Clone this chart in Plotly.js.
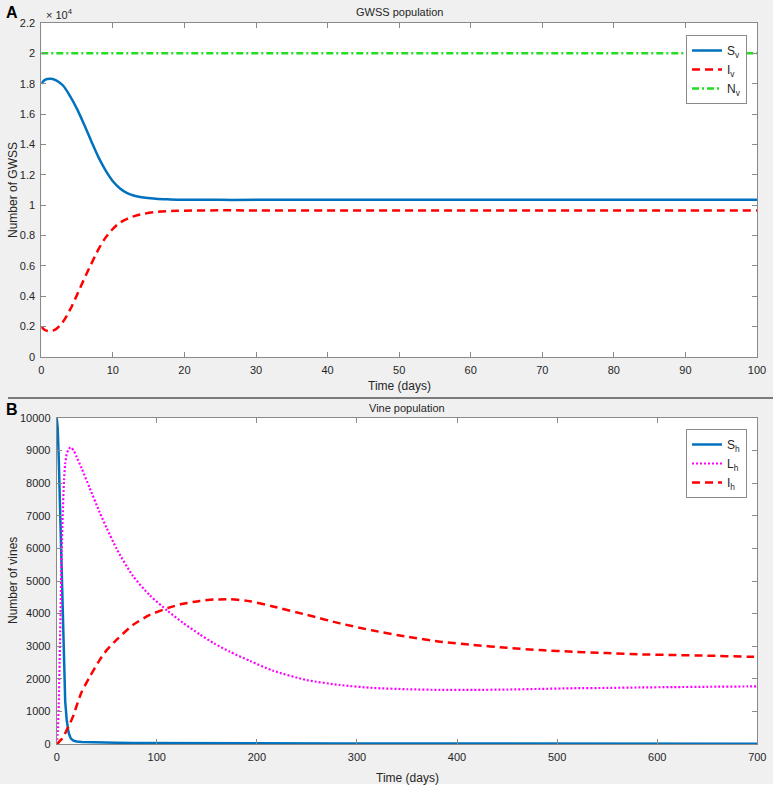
<!DOCTYPE html>
<html>
<head>
<meta charset="utf-8">
<script src="https://cdn.plot.ly/plotly-3.0.1.min.js"></script>
<style>html,body{margin:0;padding:0;background:#fff;}#chart{width:773px;height:788px;}</style>
</head>
<body>
<div id="chart"></div>
<script>
// ---- Panel A: GWSS population ----
const tV = [0,0.5,1.2,2,3,4,5,6,7,8,9,10,11,12,13,14,16,18,20,25,30,40,50,60,70,80,90,100];
const Sv = [18000,18250,18330,18240,17900,17200,16330,15300,14200,13150,12280,11580,11100,10790,10620,10520,10420,10380,10360,10350,10350,10350,10350,10350,10350,10350,10350,10350];
const Iv = [2000,1780,1700,1820,2300,3100,4100,5150,6150,7100,7880,8440,8850,9100,9280,9400,9550,9610,9640,9660,9655,9650,9650,9650,9650,9650,9650,9650];
const Nv = [20000,20000,20000,20000,20000,20000,20000,20000,20000,20000,20000,20000,20000,20000,20000,20000,20000,20000,20000,20000,20000,20000,20000,20000,20000,20000,20000,20000];
const yTicksA = [0,2000,4000,6000,8000,10000,12000,14000,16000,18000,20000,22000];
const yTextA = ['0','0.2','0.4','0.6','0.8','1','1.2','1.4','1.6','1.8','2','2.2'];
const xTicksA = [0,10,20,30,40,50,60,70,80,90,100];

// ---- Panel B: Vine population ----
const tH = [0,1,2,3.3,5,6,7.3,8.5,10,11.7,13.3,14.3,17,20,25,33,43,50,60,76,93,111,126,143,157,173,193,216,250,283,316,350,383,416,450,483,516,550,583,616,650,690,700];
const Sh = [10000,9700,8800,7180,5000,3600,2060,1300,740,380,220,160,100,75,62,52,45,42,38,34,31,28,26,24,23,22,21,20,18,17,16,15,14,13,12,12,11,11,10,10,10,9,9];
const Lh = [0,300,1200,3100,5900,7000,8100,8600,8900,9030,9090,9100,9000,8800,8450,7850,7100,6620,5980,5160,4560,4080,3720,3360,3090,2830,2550,2250,1960,1810,1720,1680,1660,1660,1670,1690,1710,1720,1735,1745,1755,1765,1770];
const Ih = [0,20,50,100,150,200,260,330,430,540,630,700,900,1180,1600,2060,2580,2880,3200,3650,3960,4170,4300,4390,4430,4440,4380,4220,3960,3700,3480,3290,3140,3040,2950,2880,2830,2790,2750,2730,2710,2680,2675];
const yTicksB = [0,1000,2000,3000,4000,5000,6000,7000,8000,9000,10000];
const yTextB = ['0','1000','2000','3000','4000','5000','6000','7000','8000','9000','10000'];
const xTicksB = [0,100,200,300,400,500,600,700];

const W = 773, H = 788;
const px = x => x / W;
const py = y => 1 - y / H;
const FONT = '"Liberation Sans Narrow", "Liberation Sans", Arial, sans-serif';
const TXT = '#262626';
const AX = '#8a8a8a';

const traces = [
  {x: tV, y: Sv, name: 'S<sub>v</sub>', mode: 'lines', line: {color: '#0072BD', width: 2.5, shape: 'spline', smoothing: 1}, xaxis: 'x', yaxis: 'y', legend: 'legend'},
  {x: tV, y: Iv, name: 'I<sub>v</sub>', mode: 'lines', line: {color: '#FF0000', width: 2.5, dash: '8px,5px', shape: 'spline', smoothing: 1}, xaxis: 'x', yaxis: 'y', legend: 'legend'},
  {x: tV, y: Nv, name: 'N<sub>v</sub>', mode: 'lines', line: {color: '#22DD22', width: 2.5, dash: '7px,3px,2px,3px'}, xaxis: 'x', yaxis: 'y', legend: 'legend'},
  {x: tH, y: Sh, name: 'S<sub>h</sub>', mode: 'lines', line: {color: '#0072BD', width: 2.5}, xaxis: 'x2', yaxis: 'y2', legend: 'legend2'},
  {x: tH, y: Lh, name: 'L<sub>h</sub>', mode: 'lines', line: {color: '#FF00FF', width: 2.2, dash: '2px,2px', shape: 'spline', smoothing: 0.6}, xaxis: 'x2', yaxis: 'y2', legend: 'legend2'},
  {x: tH, y: Ih, name: 'I<sub>h</sub>', mode: 'lines', line: {color: '#FF0000', width: 2.5, dash: '8px,5px', shape: 'spline', smoothing: 0.6}, xaxis: 'x2', yaxis: 'y2', legend: 'legend2'}
];

const axBase = {
  showgrid: false, zeroline: false, showline: true, linecolor: AX, linewidth: 1,
  mirror: 'allticks', ticks: 'inside', ticklen: 5, tickcolor: AX, tickwidth: 1,
  ticklabelstandoff: 3,
  tickfont: {family: FONT, size: 11, color: TXT}, fixedrange: true
};

const legendBase = {
  bgcolor: '#ffffff', bordercolor: '#8a8a8a', borderwidth: 1,
  font: {family: FONT, size: 12, color: TXT}, xanchor: 'right', yanchor: 'top',
  tracegroupgap: 0, itemwidth: 30
};

const ann = (text, x, y, extra) => Object.assign({
  text: text, x: px(x), y: py(y), xref: 'paper', yref: 'paper', showarrow: false,
  font: {family: FONT, size: 11, color: TXT}, xanchor: 'center', yanchor: 'middle'
}, extra || {});

const layout = {
  width: W, height: H,
  margin: {l: 0, r: 0, t: 0, b: 0},
  paper_bgcolor: '#f0f0f0', plot_bgcolor: '#ffffff',
  showlegend: true,
  xaxis: Object.assign({}, axBase, {domain: [px(41.3), px(757)], range: [0, 100], tickvals: xTicksA, anchor: 'y'}),
  yaxis: Object.assign({}, axBase, {domain: [py(357), py(23)], range: [0, 22000], tickvals: yTicksA, ticktext: yTextA, anchor: 'x'}),
  xaxis2: Object.assign({}, axBase, {domain: [px(56.7), px(757.3)], range: [0, 700], tickvals: xTicksB, anchor: 'y2'}),
  yaxis2: Object.assign({}, axBase, {domain: [py(744), py(418)], range: [0, 10000], tickvals: yTicksB, ticktext: yTextB, anchor: 'x2'}),
  legend: Object.assign({}, legendBase, {x: px(747), y: py(35)}),
  legend2: Object.assign({}, legendBase, {x: px(747), y: py(429)}),
  annotations: [
    ann('GWSS population', 399, 12),
    ann('Time (days)', 399, 386, {font: {family: FONT, size: 12, color: TXT}}),
    ann('Number of GWSS', 13, 190, {textangle: -90, font: {family: FONT, size: 12, color: TXT}}),
    ann('× 10<sup>4</sup>', 44, 14, {xanchor: 'left'}),
    ann('<b>A</b>', 4, 12, {xanchor: 'left', font: {family: '"Liberation Sans", Arial, sans-serif', size: 16, color: '#000'}}),
    ann('Vine population', 407, 408),
    ann('Time (days)', 407, 778, {font: {family: FONT, size: 12, color: TXT}}),
    ann('Number of vines', 13, 581, {textangle: -90, font: {family: FONT, size: 12, color: TXT}}),
    ann('<b>B</b>', 4, 409, {xanchor: 'left', font: {family: '"Liberation Sans", Arial, sans-serif', size: 16, color: '#000'}})
  ],
  shapes: [
    {type: 'line', xref: 'paper', yref: 'paper', x0: px(8), x1: 1, y0: py(398), y1: py(398), line: {color: '#555555', width: 1.5}},
    {type: 'rect', xref: 'paper', yref: 'paper', x0: 0, x1: 1, y0: 0, y1: py(784), fillcolor: '#ffffff', line: {width: 0}, layer: 'above'}
  ]
};

Plotly.newPlot('chart', traces, layout, {staticPlot: true, displayModeBar: false});
</script>
</body>
</html>
